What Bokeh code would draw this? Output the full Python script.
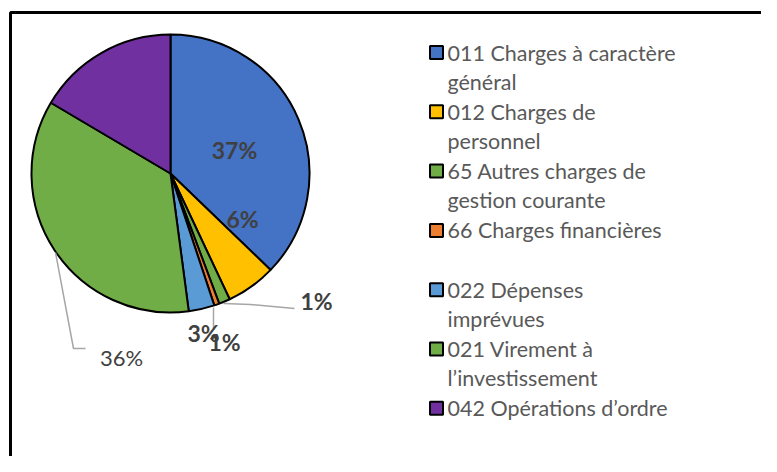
import math
from bokeh.plotting import figure
from bokeh.models import Range1d, ColumnDataSource
from bokeh.core.properties import value
from bokeh.embed import file_html
from bokeh.resources import INLINE

# ---- data ----
categories = [
    "011 Charges à caractère\ngénéral",
    "012 Charges de\npersonnel",
    "65 Autres charges de\ngestion courante",
    "66 Charges financières",
    "022 Dépenses\nimprévues",
    "021 Virement à\nl’investissement",
    "042 Opérations d’ordre",
]
shares = [37.2, 5.8, 1.3, 0.6, 3.0, 35.6, 16.5]
colors = ["#4472C4", "#FFC000", "#70AD47", "#ED7D31", "#5B9BD5", "#70AD47", "#7030A0"]
show_label = [True, True, True, True, True, True, False]
label_bold = [True, True, True, True, True, False, False]

W, H = 761, 456
def fx(ix):
    return ix
def fy(iy):
    return H - iy

p = figure(width=W, height=H, output_backend="svg", toolbar_location=None,
           x_axis_type=None, y_axis_type=None,
           x_range=Range1d(0, W), y_range=Range1d(0, H), min_border=0)
p.outline_line_color = None
p.grid.visible = False
p.background_fill_color = "white"

# frame (only top and left visible in the reference)
p.line([fx(10), fx(10), fx(800)], [fy(500), fy(12), fy(12)], line_color="black", line_width=3)

# pie
cx, cy, r = fx(170), fy(173), 139
total = sum(shares)
starts, ends = [], []
cum = 0.0
for s in shares:
    starts.append(math.pi / 2 - 2 * math.pi * cum / total)
    cum += s
    ends.append(math.pi / 2 - 2 * math.pi * cum / total)
src = ColumnDataSource(dict(x=[cx] * len(shares), y=[cy] * len(shares),
                            start=starts, end=ends, color=colors))
p.wedge(x="x", y="y", radius=r, start_angle="start", end_angle="end",
        direction="clock", fill_color="color", line_color="black", line_width=2,
        source=src)

# leader lines
lead_col = "#A6A6A6"
p.line([fx(223), fx(250), fx(294)], [fy(303), fy(304), fy(308)], line_color=lead_col, line_width=1.5)
p.line([fx(213), fx(213)], [fy(307), fy(328)], line_color=lead_col, line_width=1.5)
p.line([fx(55), fx(73), fx(85)], [fy(252), fy(348), fy(348)], line_color=lead_col, line_width=1.5)

# data labels
label_pos = [(234, 149), (242, 218), (316, 300), (224, 341), (203, 332), (121, 357), None]
order = [0, 1, 2, 4, 3, 5]
for i in order:
    if not show_label[i] or label_pos[i] is None:
        continue
    lx, ly = label_pos[i]
    p.text(x=[fx(lx)], y=[fy(ly)], text=[f"{round(shares[i])}%"],
           text_font=value("Lato"), text_font_size="23px" if label_bold[i] else "22px",
           text_font_style="bold" if label_bold[i] else "normal",
           text_color="#404040", text_align="center", text_baseline="middle")

# legend
leg_y0, leg_step, line_step = 52, 59.3, 29
sq_x, txt_x = 436, 447
for i, (cat, col) in enumerate(zip(categories, colors)):
    iy = leg_y0 + leg_step * i
    p.rect(x=[fx(sq_x)], y=[fy(iy)], width=13, height=13, fill_color=col,
           line_color="black", line_width=2)
    for j, ln in enumerate(cat.split("\n")):
        p.text(x=[fx(txt_x)], y=[fy(iy + line_step * j)], text=[ln],
               text_font=value("Lato"), text_font_size="21.5px",
               text_color="#595959", text_align="left", text_baseline="middle")

open("out.html", "w").write(file_html(p, INLINE))
